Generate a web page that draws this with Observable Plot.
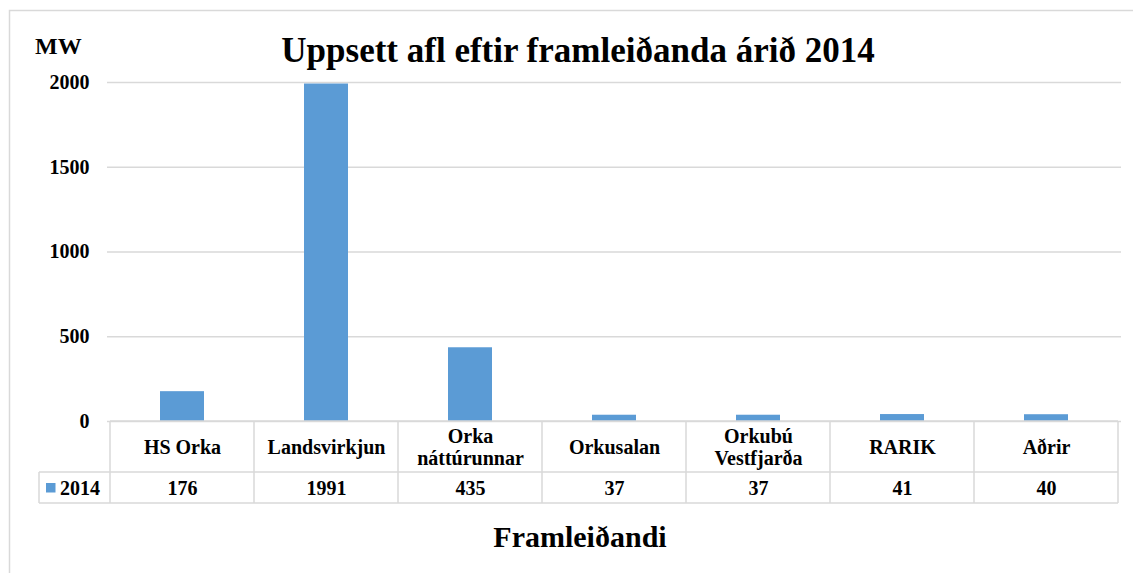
<!DOCTYPE html>
<html>
<head>
<meta charset="utf-8">
<script src="https://cdn.jsdelivr.net/npm/d3@7"></script>
<script src="https://cdn.jsdelivr.net/npm/@observablehq/plot@0.6"></script>
<style>
  html, body { margin: 0; padding: 0; background: #fff; }
  svg { display: block; }
</style>
</head>
<body>
<div id="chart"></div>
<script>
const categories = ["HS Orka", "Landsvirkjun", "Orka\nnáttúrunnar", "Orkusalan", "Orkubú\nVestfjarða", "RARIK", "Aðrir"];
const values2014 = [176, 1991, 435, 37, 37, 41, 40];
const yTicks = [0, 500, 1000, 1500, 2000];
const seriesName = "2014";
const titleText = "Uppsett afl eftir framleiðanda árið 2014";
const yLabel = "MW";
const xLabel = "Framleiðandi";

const data = categories.map((c, i) => ({cat: c, value: values2014[i]}));
const single = data.filter(d => !d.cat.includes("\n"));
const multi = data.filter(d => d.cat.includes("\n"));

const FONT = "'Liberation Serif', 'Times New Roman', serif";
const GRID = "#d9d9d9";
const BAR = "#5b9bd5";
const txt = {fontFamily: FONT, fontWeight: "bold", fontSize: 20, fill: "#000", frameAnchor: "bottom", lineAnchor: "middle"};

const W = 1133, H = 573;
const chart = Plot.plot({
  width: W,
  height: H,
  marginTop: 82,
  marginBottom: 152,
  marginLeft: 107,
  marginRight: 12,
  style: {fontFamily: FONT, fontWeight: "bold", color: "#000", background: "#fff"},
  x: {domain: categories, padding: 0, axis: null},
  y: {domain: [0, 2000], ticks: yTicks, label: null},
  marks: [
    Plot.ruleY(yTicks, {stroke: GRID, strokeWidth: 1.5}),
    Plot.barY(data, {x: "cat", y: "value", fill: BAR, insetLeft: 50, insetRight: 50}),
    Plot.axisY(yTicks, {tickSize: 0, tickPadding: 18, fontSize: 20, fontWeight: "bold", fontFamily: FONT, fill: "#000", label: null, tickFormat: d => String(d)}),
    Plot.text(single, {...txt, x: "cat", text: "cat", dy: 26}),
    Plot.text(multi, {...txt, x: "cat", text: d => d.cat.split("\n")[0], dy: 15}),
    Plot.text(multi, {...txt, x: "cat", text: d => d.cat.split("\n")[1], dy: 37}),
    Plot.text(data, {...txt, x: "cat", text: d => String(d.value), dy: 67.5})
  ]
});
document.getElementById("chart").appendChild(chart);

const svg = d3.select(chart);
const xs = chart.scale("x");
const ys = chart.scale("y");
const bw = xs.bandwidth;
const left = xs.apply(categories[0]);
const right = xs.apply(categories[categories.length - 1]) + bw;
const y0 = ys.apply(0);
const row1 = y0 + 51, row2 = y0 + 82;
const legendLeft = 39;

const g = svg.append("g").attr("stroke", GRID).attr("stroke-width", 1.5).attr("fill", "none");
g.append("rect").attr("x", 9.5).attr("y", 10.5).attr("width", W + 10).attr("height", H + 10);
g.append("line").attr("x1", left).attr("x2", right).attr("y1", y0).attr("y2", y0);
g.append("line").attr("x1", legendLeft).attr("x2", right).attr("y1", row1).attr("y2", row1);
g.append("line").attr("x1", legendLeft).attr("x2", right).attr("y1", row2).attr("y2", row2);
categories.forEach(c => {
  const x = xs.apply(c);
  g.append("line").attr("x1", x).attr("x2", x).attr("y1", y0).attr("y2", row2);
});
g.append("line").attr("x1", right).attr("x2", right).attr("y1", y0).attr("y2", row2);
g.append("line").attr("x1", legendLeft).attr("x2", legendLeft).attr("y1", row1).attr("y2", row2);

function label(x, y, size, anchor, s) {
  svg.append("text").attr("x", x).attr("y", y).attr("text-anchor", anchor)
    .style("font-family", FONT).style("font-weight", "bold").style("font-size", size + "px")
    .attr("fill", "#000").text(s);
}
svg.append("rect").attr("x", 46).attr("y", row1 + 11).attr("width", 9.5).attr("height", 9.5).attr("fill", BAR);
label(60, row1 + 23, 20, "start", seriesName);
label(578, 62, 35, "middle", titleText);
label(35, 54, 24, "start", yLabel);
label(580, 547, 30, "middle", xLabel);
</script>
</body>
</html>
